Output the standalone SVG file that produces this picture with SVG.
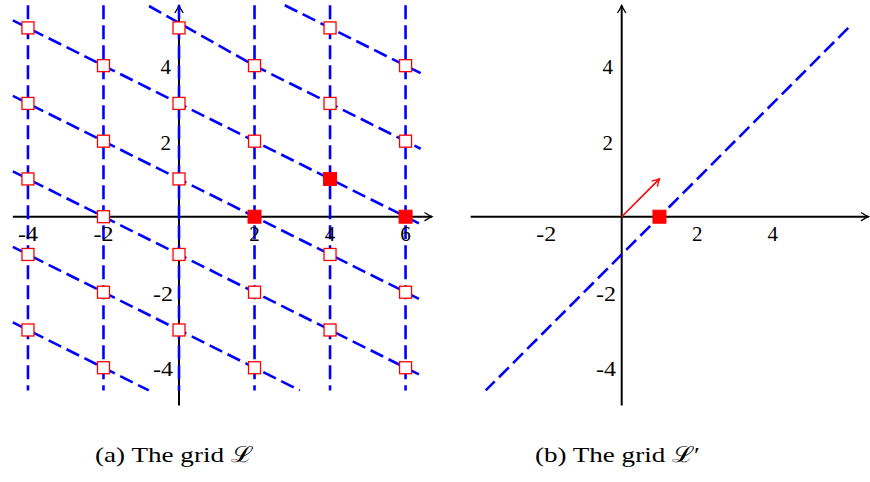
<svg xmlns="http://www.w3.org/2000/svg" width="870" height="482" viewBox="0 0 870 482">
<style>
.ax{stroke:#000;stroke-width:2;fill:none}
.dl{stroke:#0000ff;stroke-width:2.6;stroke-dasharray:14 6;fill:none}
.tk{font-family:"Liberation Serif","Times New Roman",serif;font-size:21px;fill:#000}
.cap{font-family:"Liberation Serif","DejaVu Serif",serif;font-size:22px;fill:#000}
</style>
<defs>
<marker id="ah" markerUnits="userSpaceOnUse" markerWidth="12" markerHeight="12" viewBox="-9 -6 12 12" refX="0" refY="0" orient="auto"><path d="M-7.5,-4.2 Q-2.5,-1 0,0 Q-2.5,1 -7.5,4.2" fill="none" stroke="#000" stroke-width="1.3"/></marker>
<marker id="ahr" markerUnits="userSpaceOnUse" markerWidth="12" markerHeight="12" viewBox="-9 -6 12 12" refX="0" refY="0" orient="auto"><path d="M-7,-4 Q-2.5,-1 0,0 Q-2.5,1 -7,4" fill="none" stroke="#ff0000" stroke-width="1.3"/></marker>
<rect id="o" x="-6" y="-6" width="12" height="12" fill="#ffffff" stroke="#ff0000" stroke-width="1.3"/>
<rect id="f" x="-6.5" y="-6.5" width="13" height="13" fill="#ff0000" stroke="#ff0000" stroke-width="1"/>
</defs>

<!-- Plot (a) -->
<g id="axes-a">
<line class="ax" x1="12.86" y1="216.7" x2="432" y2="216.7" marker-end="url(#ah)"/>
<line class="ax" x1="179" y1="405.5" x2="179" y2="5.5" marker-end="url(#ah)"/>
</g>
<g id="connectors-a">
<path class="dl" d="M27.96,5.24V390.4 M103.48,5.24V390.4 M179,5.24V390.4 M254.52,5.24V390.4 M330.04,5.24V390.4 M405.56,5.24V390.4"/>
<path class="dl" d="M284.72,5.24L420.66,73.21"/>
<path class="dl" d="M149,6L254.52,65.66L420.66,148.73"/>
<path class="dl" d="M12.86,20.35L420.66,224.25"/>
<path class="dl" d="M12.86,95.87L420.66,299.77"/>
<path class="dl" d="M12.86,171.39L420.66,375.29"/>
<path class="dl" d="M12.86,246.91L299.84,390.4"/>
<path class="dl" d="M12.86,322.43L148.8,390.4"/>
</g>
<g id="points-a">
<use href="#o" x="27.96" y="27.9"/><use href="#o" x="27.96" y="103.42"/><use href="#o" x="27.96" y="178.94"/><use href="#o" x="27.96" y="254.46"/><use href="#o" x="27.96" y="329.98"/>
<use href="#o" x="103.48" y="65.66"/><use href="#o" x="103.48" y="141.18"/><use href="#o" x="103.48" y="216.7"/><use href="#o" x="103.48" y="292.22"/><use href="#o" x="103.48" y="367.74"/>
<use href="#o" x="179" y="27.9"/><use href="#o" x="179" y="103.42"/><use href="#o" x="179" y="178.94"/><use href="#o" x="179" y="254.46"/><use href="#o" x="179" y="329.98"/>
<use href="#o" x="254.52" y="65.66"/><use href="#o" x="254.52" y="141.18"/><use href="#o" x="254.52" y="292.22"/><use href="#o" x="254.52" y="367.74"/>
<use href="#o" x="330.04" y="27.9"/><use href="#o" x="330.04" y="103.42"/><use href="#o" x="330.04" y="254.46"/><use href="#o" x="330.04" y="329.98"/>
<use href="#o" x="405.56" y="65.66"/><use href="#o" x="405.56" y="141.18"/><use href="#o" x="405.56" y="292.22"/><use href="#o" x="405.56" y="367.74"/>
<use href="#f" x="254.52" y="216.7"/><use href="#f" x="330.04" y="178.94"/><use href="#f" x="405.56" y="216.7"/>
</g>
<g id="labels-a" class="tk">
<text x="27.96" y="240.5" text-anchor="middle" textLength="20" lengthAdjust="spacingAndGlyphs">-4</text>
<text x="103.48" y="240.5" text-anchor="middle" textLength="20" lengthAdjust="spacingAndGlyphs">-2</text>
<text x="254.52" y="240.5" text-anchor="middle">2</text>
<text x="330.04" y="240.5" text-anchor="middle">4</text>
<text x="405.56" y="240.5" text-anchor="middle">6</text>
<text x="171" y="74.2" text-anchor="end">4</text>
<text x="171" y="149.7" text-anchor="end">2</text>
<text x="173" y="300.7" text-anchor="end" textLength="20" lengthAdjust="spacingAndGlyphs">-2</text>
<text x="173" y="376.2" text-anchor="end" textLength="20" lengthAdjust="spacingAndGlyphs">-4</text>
</g>

<!-- Plot (b) -->
<g id="axes-b">
<line class="ax" x1="470.66" y1="216.7" x2="868.5" y2="216.7" marker-end="url(#ah)"/>
<line class="ax" x1="621.7" y1="405.5" x2="621.7" y2="5.5" marker-end="url(#ah)"/>
</g>
<g id="connectors-b">
<path class="dl" d="M848.26,27.9L485.76,390.4"/>
<line x1="621.7" y1="216.7" x2="659.46" y2="178.94" stroke="#ff0000" stroke-width="1.6" marker-end="url(#ahr)"/>
</g>
<g id="points-b">
<use href="#f" x="659.46" y="216.7"/>
</g>
<g id="labels-b" class="tk">
<text x="546.18" y="240.5" text-anchor="middle" textLength="20" lengthAdjust="spacingAndGlyphs">-2</text>
<text x="697.22" y="240.5" text-anchor="middle">2</text>
<text x="772.74" y="240.5" text-anchor="middle">4</text>
<text x="613" y="74.2" text-anchor="end">4</text>
<text x="613" y="149.7" text-anchor="end">2</text>
<text x="616" y="300.7" text-anchor="end" textLength="20" lengthAdjust="spacingAndGlyphs">-2</text>
<text x="616" y="376.2" text-anchor="end" textLength="20" lengthAdjust="spacingAndGlyphs">-4</text>
</g>

<g id="captions" class="cap">
<text x="95" y="462" textLength="158" lengthAdjust="spacingAndGlyphs">(a) The grid ℒ</text>
<text x="535" y="462" textLength="165" lengthAdjust="spacingAndGlyphs">(b) The grid ℒ′</text>
</g>
</svg>
